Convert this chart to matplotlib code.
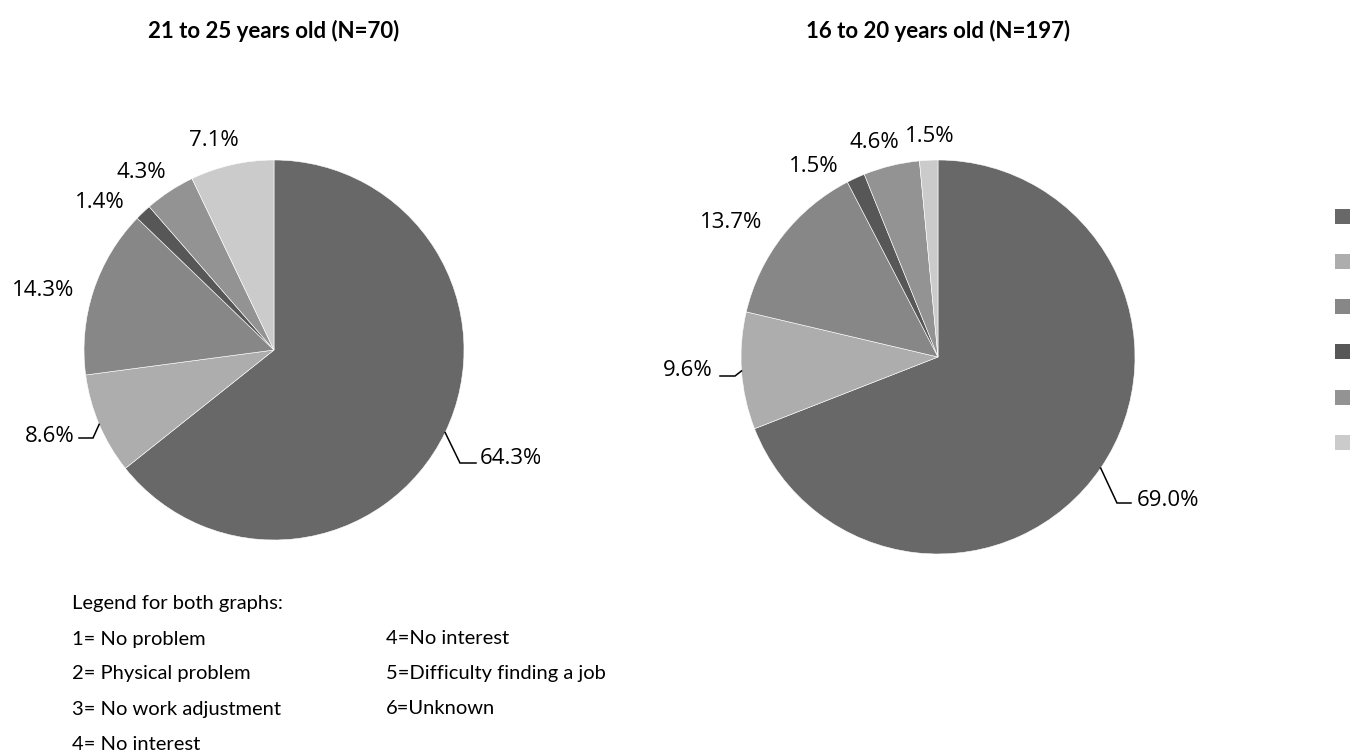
import matplotlib
matplotlib.use("Agg")
import matplotlib.pyplot as plt
import numpy as np

# share of each reason, in percent (legend order 1..6)
reasons = ["No problem", "Physical problem", "No work adjustment",
           "No interest", "Difficulty finding a job", "Unknown"]
older_pct = [64.3, 8.6, 14.3, 1.4, 4.3, 7.1]      # 21 to 25 years old (N=70)
younger_pct = [69.0, 9.6, 13.7, 1.5, 4.6, 1.5]    # 16 to 20 years old (N=197)
older_title = "21 to 25 years old (N=70)"
younger_title = "16 to 20 years old (N=197)"

greys = ["#686868", "#adadad", "#878787", "#575757", "#939393", "#cbcbcb"]

W, H = 1361, 754
fig = plt.figure(figsize=(W / 100, H / 100), dpi=100)
fig.patch.set_facecolor("white")

LABEL_FONT = ["Open Sans", "DejaVu Sans"]
TEXT_FONT = ["Lato", "DejaVu Sans"]


def px(cx, cy, r, x, y):
    return (x - cx) / r, (cy - y) / r


def draw_pie(box, values, cx, cy, r, labels_px, leaders_px):
    left, right, top, bottom = box
    ax = fig.add_axes([left / W, 1 - bottom / H, (right - left) / W, (bottom - top) / H])
    wedges, _ = ax.pie(values, colors=greys, startangle=90, counterclock=False,
                       radius=1, wedgeprops=dict(linewidth=0.4, edgecolor="white"))
    # pie() resets the limits, so set them afterwards: 1 data unit = r pixels
    ax.set_aspect("auto")
    ax.set_xlim((left - cx) / r, (right - cx) / r)
    ax.set_ylim((cy - bottom) / r, (cy - top) / r)
    ax.set_axis_off()
    for v, (lx, ly, ha) in zip(values, labels_px):
        x, y = px(cx, cy, r, lx, ly)
        ax.text(x, y, f"{v:.1f}%", ha=ha, va="center", fontsize=16,
                family=LABEL_FONT, color="black", clip_on=True)
    for i, pts in leaders_px.items():
        w = wedges[i]
        mid = np.deg2rad((w.theta1 + w.theta2) / 2)
        xs = [np.cos(mid)] + [px(cx, cy, r, a, b)[0] for a, b in pts]
        ys = [np.sin(mid)] + [px(cx, cy, r, a, b)[1] for a, b in pts]
        ax.plot(xs, ys, color="black", lw=1.1, solid_joinstyle="miter")
    return wedges


# left pie: 21 to 25 (chart area ends near x=540, cutting the label)
lcx, lcy, lr = 274, 350, 190
draw_pie((0, 540, 60, 580), older_pct, lcx, lcy, lr,
         [(480, 459, "left"), (75, 436, "right"), (74, 290, "right"),
          (125, 203, "right"), (166, 172, "right"), (214, 141, "center")],
         {0: [(460, 463), (476, 463)], 1: [(93, 438), (79, 438)]})

# right pie: 16 to 20
rcx, rcy, rr = 938, 357, 197
draw_pie((560, 1300, 60, 590), younger_pct, rcx, rcy, rr,
         [(1137, 500, "left"), (713, 371, "right"), (731, 223, "center"),
          (814, 166, "center"), (874, 143, "center"), (930, 137, "center")],
         {0: [(1117, 503), (1131, 503)], 1: [(735, 376), (720, 376)]})

fig.text(274 / W, 1 - 31 / H, older_title, ha="center", va="center",
         fontsize=16, fontweight="bold", family=TEXT_FONT)
fig.text(938 / W, 1 - 31 / H, younger_title, ha="center", va="center",
         fontsize=16, fontweight="bold", family=TEXT_FONT)

# colour keys on the right (labels cut off in the original)
axl = fig.add_axes([1320 / W, 1 - 490 / H, 45 / W, 300 / H])
ypos = np.arange(len(greys))
axl.scatter(np.zeros(len(greys)), ypos, marker="s", s=(15 * 0.72) ** 2,
            c=greys, linewidths=0)
axl.set_xlim(-1.5, 1.5)
axl.set_ylim(len(greys) - 0.5 + 0.55, -0.5 - 0.08)
axl.set_axis_off()

# text legend under the pies
fig.text(72 / W, 1 - 604 / H, "Legend for both graphs:", ha="left", va="center",
         fontsize=14.5, family=TEXT_FONT)
col1 = [f"{i + 1}= {reasons[i]}" for i in range(4)]
col2 = [f"{i + 4}={reasons[i + 3]}" for i in range(3)]
for k, s in enumerate(col1):
    fig.text(72 / W, 1 - (639 + 35 * k) / H, s, ha="left", va="center",
             fontsize=14.5, family=TEXT_FONT)
for k, s in enumerate(col2):
    fig.text(386 / W, 1 - (639 + 35 * k) / H, s, ha="left", va="center",
             fontsize=14.5, family=TEXT_FONT)

fig.savefig("out.png", dpi=100, facecolor="white")
